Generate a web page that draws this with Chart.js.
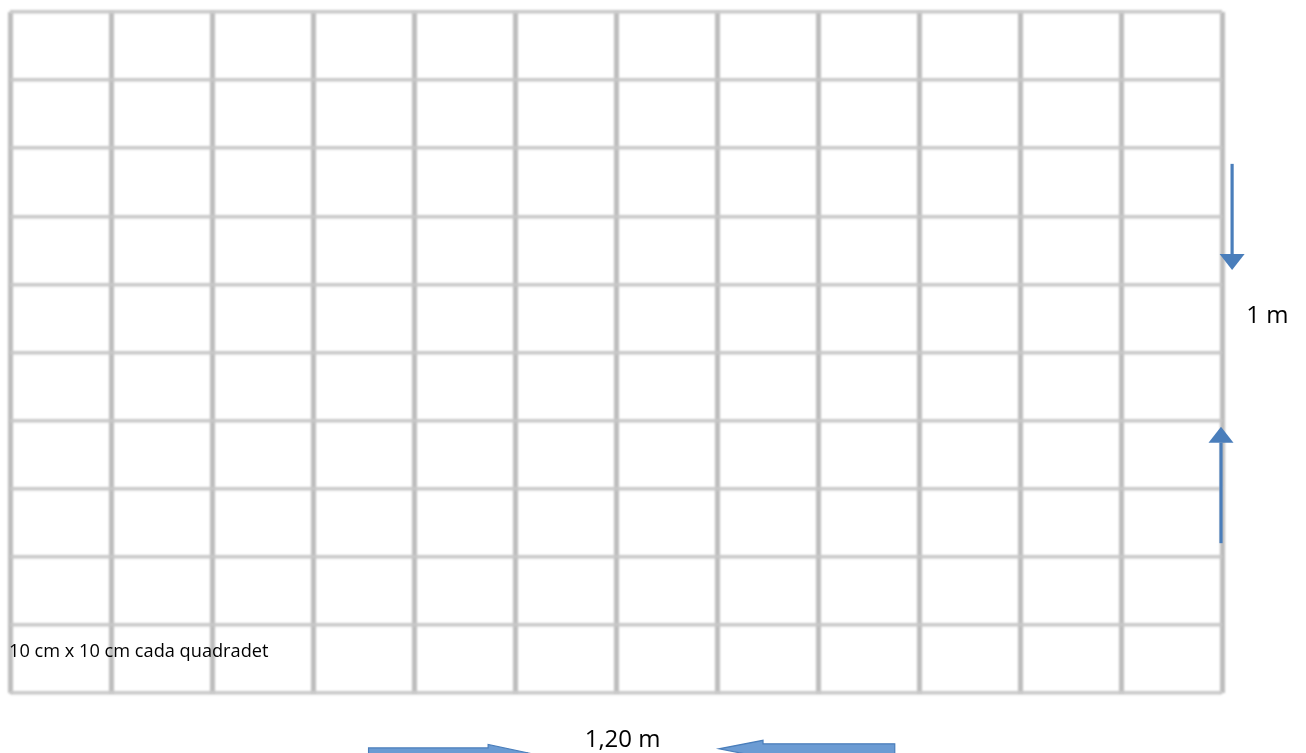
<!DOCTYPE html>
<html>
<head>
<meta charset="utf-8">
<script src="https://cdn.jsdelivr.net/npm/chart.js@4.4.1/dist/chart.umd.min.js"></script>
<style>
    html, body { margin: 0; padding: 0; background: #fff; }
    #wrap { width: 1306px; height: 753px; }
</style>
</head>
<body>
<div id="wrap"><canvas id="grid" width="1306" height="753"></canvas></div>
<script>
// grid lines, in cm (10 cm per square)
const colLines = [0, 10, 20, 30, 40, 50, 60, 70, 80, 90, 100, 110, 120];
const rowLines = [0, 10, 20, 30, 40, 50, 60, 70, 80, 90, 100];

// vertical arrows on the right (1 m)
const vArrowX = [121.0, 119.9];
const vArrowFrom = [77.7, 22.0];
const vArrowTo = [62.1, 39.1];

// block arrows under the grid (1,20 m)
const hArrowY = [-8.8, -8.2];
const hArrowFrom = [35.5, 87.6];
const hArrowTo = [51.3, 70.2];

// texts
const labels = ['1 m', '1,20 m', '10 cm x 10 cm cada quadradet'];
const labelX = [122.4, 56.9, -0.1];
const labelY = [54.3, -8.0, 5.3];
const labelSize = [24, 24, 18.2];

const BLUE = '#4a7ebb';

// soft gray grid: blur only the scale layer
const blurGrid = {
    id: 'blurGrid',
    beforeDraw(chart) {
        chart.ctx.save();
        chart.ctx.filter = 'blur(1.1px)';
    },
    beforeDatasetsDraw(chart) {
        chart.ctx.restore();
    }
};

const drawExtras = {
    id: 'drawExtras',
    afterDraw(chart) {
        const ctx = chart.ctx;
        const xs = chart.scales.x;
        const ys = chart.scales.y;
        ctx.save();

        // thin arrows with triangle heads
        vArrowX.forEach((xv, i) => {
            const x = xs.getPixelForValue(xv);
            const y0 = ys.getPixelForValue(vArrowFrom[i]);
            const y1 = ys.getPixelForValue(vArrowTo[i]);
            const dir = y1 > y0 ? 1 : -1;
            const headLen = 16, headHalf = 12.5;
            ctx.strokeStyle = BLUE;
            ctx.lineWidth = 3.2;
            ctx.beginPath();
            ctx.moveTo(x, y0);
            ctx.lineTo(x, y1 - dir * headLen);
            ctx.stroke();
            ctx.fillStyle = BLUE;
            ctx.beginPath();
            ctx.moveTo(x - headHalf, y1 - dir * headLen);
            ctx.lineTo(x + headHalf, y1 - dir * headLen);
            ctx.lineTo(x, y1);
            ctx.closePath();
            ctx.fill();
        });

        // block arrows
        hArrowY.forEach((yv, i) => {
            const y = ys.getPixelForValue(yv);
            const x0 = xs.getPixelForValue(hArrowFrom[i]);
            const x1 = xs.getPixelForValue(hArrowTo[i]);
            const dir = x1 > x0 ? 1 : -1;
            const headLen = dir > 0 ? 40 : 44, shaft = 5, head = 8.5;
            const xb = x1 - dir * headLen;
            ctx.beginPath();
            ctx.moveTo(x0, y - shaft);
            ctx.lineTo(xb, y - shaft);
            ctx.lineTo(xb, y - head);
            ctx.lineTo(x1, y);
            ctx.lineTo(xb, y + head);
            ctx.lineTo(xb, y + shaft);
            ctx.lineTo(x0, y + shaft);
            ctx.closePath();
            ctx.fillStyle = '#6b9bd3';
            ctx.fill();
            ctx.strokeStyle = BLUE;
            ctx.lineWidth = 1.2;
            ctx.stroke();
        });

        // texts
        ctx.fillStyle = '#000';
        ctx.textAlign = 'left';
        ctx.textBaseline = 'alphabetic';
        labels.forEach((t, i) => {
            ctx.font = labelSize[i] + 'px "Open Sans", sans-serif';
            ctx.fillText(t, xs.getPixelForValue(labelX[i]), ys.getPixelForValue(labelY[i]));
        });
        ctx.restore();
    }
};

new Chart(document.getElementById('grid').getContext('2d'), {
    type: 'scatter',
    data: { datasets: [{ data: [] }] },
    options: {
        responsive: false,
        animation: false,
        devicePixelRatio: 1,
        layout: { padding: { left: 10, top: 12, right: 84, bottom: 60 } },
        plugins: { legend: { display: false }, tooltip: { enabled: false } },
        scales: {
            x: {
                type: 'linear',
                min: 0,
                max: 120,
                afterBuildTicks: (axis) => { axis.ticks = colLines.map(v => ({ value: v })); },
                ticks: { display: false },
                border: { display: false },
                grid: { color: '#bdbdbd', lineWidth: 5, drawTicks: false }
            },
            y: {
                type: 'linear',
                min: 0,
                max: 100,
                afterBuildTicks: (axis) => { axis.ticks = rowLines.map(v => ({ value: v })); },
                ticks: { display: false },
                border: { display: false },
                grid: { color: '#c8c8c8', lineWidth: 3.5, drawTicks: false }
            }
        }
    },
    plugins: [blurGrid, drawExtras]
});
</script>
</body>
</html>
